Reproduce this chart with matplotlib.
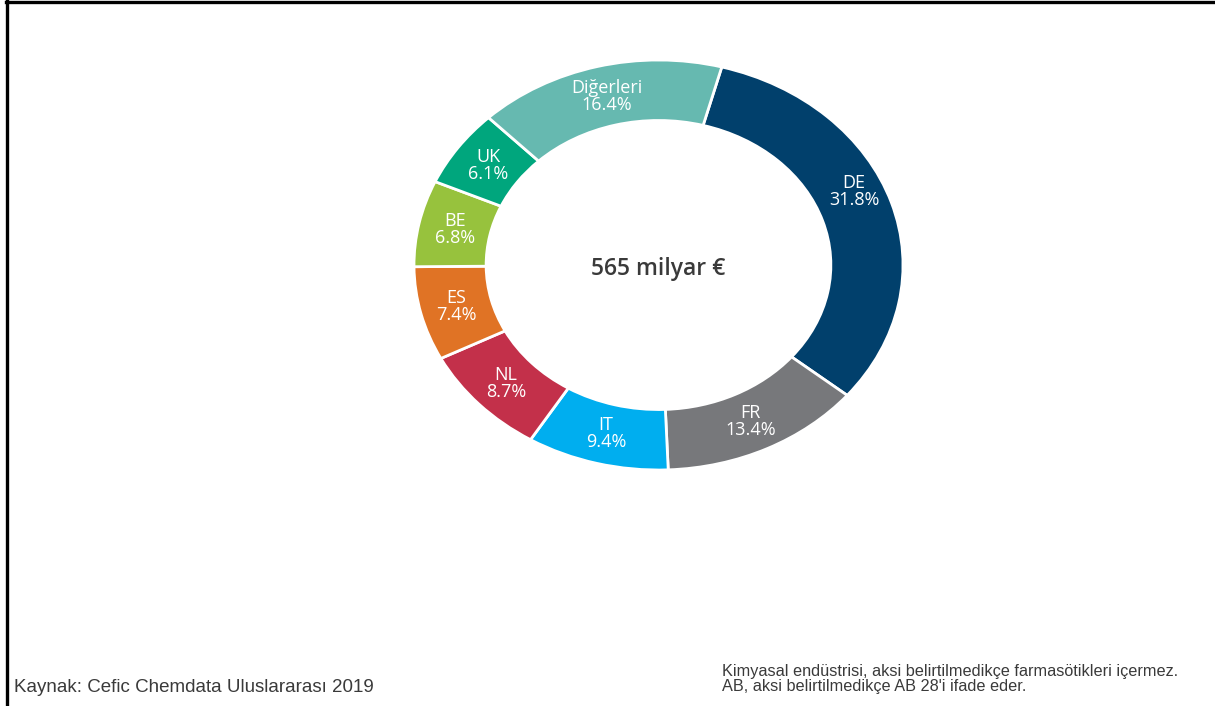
import matplotlib
matplotlib.use("Agg")
import matplotlib.pyplot as plt
from matplotlib.lines import Line2D

categories = ["DE", "FR", "IT", "NL", "ES", "BE", "UK", "Diğerleri"]
shares = [31.8, 13.4, 9.4, 8.7, 7.4, 6.8, 6.1, 16.4]
colors = ["#01406C", "#77787B", "#00AEEF", "#C3304A", "#E07325", "#97C23D", "#00A67D", "#66B9B0"]
center_text = "565 milyar €"
source_text = "Kaynak: Cefic Chemdata Uluslararası 2019"
note_text = "Kimyasal endüstrisi, aksi belirtilmedikçe farmasötikleri içermez.\nAB, aksi belirtilmedikçe AB 28'i ifade eder."

W, H = 1215, 706
fig = plt.figure(figsize=(W / 100, H / 100), dpi=100)
fig.patch.set_facecolor("white")

# donut axes (slightly stretched horizontally like the reference)
left, right, top, bottom = 414, 903, 60, 470
ax = fig.add_axes([left / W, 1 - bottom / H, (right - left) / W, (bottom - top) / H])
labels = [f"{c}\n{v}%" for c, v in zip(categories, shares)]
wedges, texts = ax.pie(
    shares, colors=colors, startangle=75, counterclock=False,
    labels=labels, labeldistance=0.85,
    wedgeprops=dict(width=0.295, edgecolor="white", linewidth=2.0),
    textprops=dict(color="white", fontsize=13, family=["Open Sans", "DejaVu Sans"], linespacing=0.92),
)
for t in texts:
    t.set_ha("center")
    t.set_va("center")
# DE label sits a bit higher in the reference
x, y = texts[0].get_position()
texts[0].set_position((x - 0.01, y + 0.10))
ax.set_aspect("auto")
ax.set_xlim(-1, 1)
ax.set_ylim(-1, 1)
ax.axis("off")
ax.text(0, -0.02, center_text, ha="center", va="center", fontsize=16.5,
        fontweight="semibold", color="#3a3a3a", family=["Open Sans", "DejaVu Sans"])

# footer texts
fig.text(14 / W, 1 - 688 / H, source_text, ha="left", va="center", fontsize=13.5,
         color="#3a3a3a", family=["Liberation Sans", "DejaVu Sans"])
fig.text(722 / W, 1 - 679 / H, note_text, ha="left", va="center", fontsize=11.7,
         color="#3a3a3a", family=["Liberation Sans", "DejaVu Sans"], linespacing=1.0)

# frame lines (top and left)
fig.add_artist(Line2D([6 / W, 1213 / W], [1 - 2 / H, 1 - 2 / H], color="black", lw=2.4,
                      transform=fig.transFigure))
fig.add_artist(Line2D([7 / W, 7 / W], [0, 1 - 1 / H], color="black", lw=2.4,
                      transform=fig.transFigure))

fig.savefig("out.png", dpi=100)
